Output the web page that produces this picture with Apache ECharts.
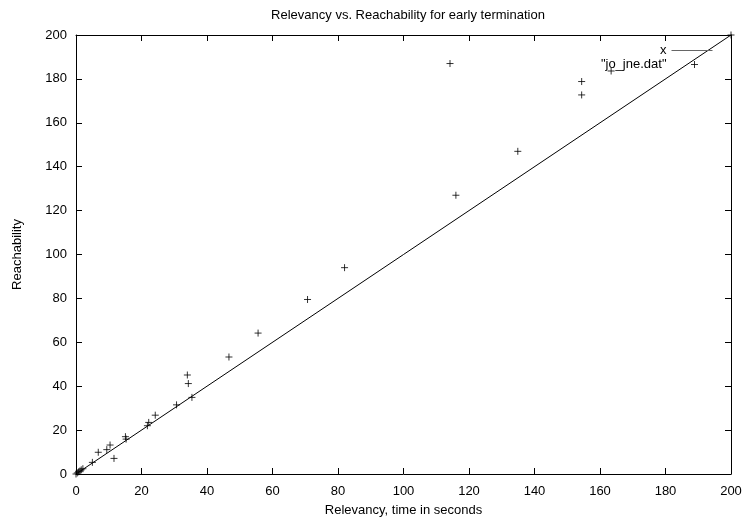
<!DOCTYPE html>
<html>
<head>
<meta charset="utf-8">
<script src="https://cdn.jsdelivr.net/npm/echarts@6/dist/echarts.min.js"></script>
<style>
  html, body { margin: 0; padding: 0; background: #fff; }
  #chart { width: 748px; height: 522px; }
</style>
</head>
<body>
<div id="chart"></div>
<script>
'use strict';

// relevancy (s) / reachability pairs
var relevancy = [0, 0.4, 0.8, 1.2, 1.6, 2.1, 5.0, 6.8, 9.4, 10.4, 11.6, 15.1, 15.3, 21.8, 22.2, 24.2,
  30.7, 34.0, 34.3, 35.4, 46.7, 55.6, 70.7, 82.0, 114.2, 116.0, 134.9, 154.4, 154.4, 163.4, 200];
var reachability = [0, 0.5, 1.0, 1.4, 1.9, 2.4, 5.3, 9.9, 11.1, 13.2, 7.1, 17.0, 15.9, 22.0, 23.5, 26.8,
  31.5, 45.1, 41.2, 34.9, 53.3, 64.2, 79.5, 94.0, 187.0, 127.0, 147.0, 178.8, 172.7, 183.6, 200];

// f(x) = x drawn over the axis range
var lineX = [0, 200];

var axisTicks = [0, 20, 40, 60, 80, 100, 120, 140, 160, 180, 200];

var font = 'Liberation Sans';
var fsize = 13;

function chart() {
  var myChart = echarts.init(document.getElementById('chart'));

  var points = relevancy.map(function(v, i) { return [v, reachability[i]]; });
  var diag = lineX.map(function(v) { return [v, v]; });

  var plus = 'path://M0,5L10,5M5,0L5,10';
  var plusIcon = 'path://M0,0L0,0M19.5,7L26.5,7M23,3.5L23,10.5M41,14L41,14';

  var baseAxis = {
    type: 'value',
    min: axisTicks[0],
    max: axisTicks[axisTicks.length - 1],
    interval: axisTicks[1] - axisTicks[0],
    axisLine: { show: true, onZero: false, lineStyle: { color: '#000', width: 1 } },
    axisTick: { show: true, inside: true, length: 6, lineStyle: { color: '#000' } },
    splitLine: { show: false },
    axisLabel: { color: '#000', fontFamily: font, fontSize: fsize }
  };

  var option = {
    animation: false,
    backgroundColor: '#fff',
    title: {
      text: 'Relevancy vs. Reachability for early termination',
      left: 403,
      textAlign: 'center',
      top: 4,
      textStyle: { color: '#000', fontFamily: font, fontSize: fsize, fontWeight: 'normal' }
    },
    legend: {
      orient: 'vertical',
      right: 30,
      top: 39,
      align: 'right',
      itemWidth: 41,
      itemHeight: 14,
      itemGap: 0,
      textStyle: { color: '#000', fontFamily: font, fontSize: fsize },
      data: [
        { name: 'x', itemStyle: { opacity: 0 }, lineStyle: { color: '#666', width: 1 } },
        { name: '"jo_jne.dat"', icon: plusIcon, itemStyle: { color: 'transparent', borderColor: '#000', borderWidth: 1 } }
      ]
    },
    grid: { left: 76, right: 17, top: 35, bottom: 47 },
    xAxis: [
      Object.assign({}, baseAxis, {
        position: 'bottom',
        name: 'Relevancy, time in seconds',
        nameLocation: 'middle',
        nameGap: 30,
        nameTextStyle: { color: '#000', fontFamily: font, fontSize: fsize },
        axisLabel: { color: '#000', fontFamily: font, fontSize: fsize, margin: 11 }
      }),
      Object.assign({}, baseAxis, { position: 'top', axisLabel: { show: false } })
    ],
    yAxis: [
      Object.assign({}, baseAxis, {
        position: 'left',
        name: 'Reachability',
        nameLocation: 'middle',
        nameGap: 52,
        nameTextStyle: { color: '#000', fontFamily: font, fontSize: fsize },
        axisLabel: { color: '#000', fontFamily: font, fontSize: fsize, margin: 9 }
      }),
      Object.assign({}, baseAxis, { position: 'right', axisLabel: { show: false } })
    ],
    series: [
      {
        name: 'x',
        type: 'line',
        symbol: 'none',
        data: diag,
        lineStyle: { color: '#000', width: 1 },
        itemStyle: { color: '#000' }
      },
      {
        name: '"jo_jne.dat"',
        type: 'scatter',
        symbol: plus,
        symbolSize: 7,
        data: points,
        itemStyle: { color: 'transparent', borderColor: '#000', borderWidth: 1 }
      }
    ]
  };

  myChart.setOption(option);
}

chart();
</script>
</body>
</html>
